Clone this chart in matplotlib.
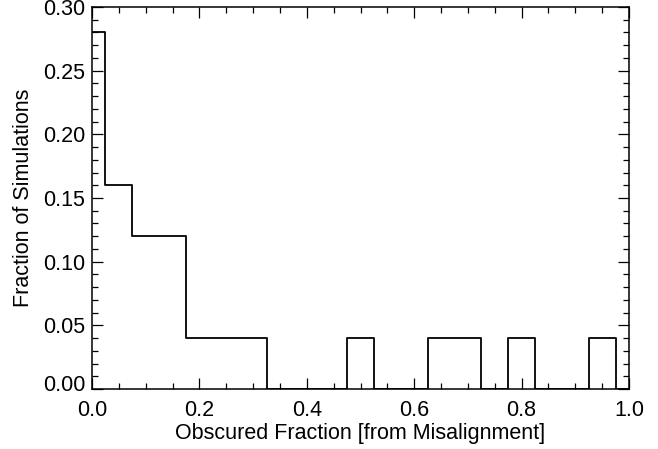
import matplotlib
matplotlib.use('Agg')
import matplotlib.pyplot as plt
from matplotlib.ticker import MultipleLocator
from matplotlib.transforms import ScaledTranslation
import numpy as np

# histogram bin centres and fraction of simulations in each bin
bin_centres = [0.00, 0.05, 0.10, 0.15, 0.20, 0.25, 0.30, 0.35, 0.40, 0.45, 0.50,
               0.55, 0.60, 0.65, 0.70, 0.75, 0.80, 0.85, 0.90, 0.95, 1.00]
fractions = [0.28, 0.16, 0.12, 0.12, 0.04, 0.04, 0.04, 0.00, 0.00, 0.00, 0.04,
             0.00, 0.00, 0.04, 0.04, 0.00, 0.04, 0.00, 0.00, 0.04, 0.00]

xticks = [0.0, 0.2, 0.4, 0.6, 0.8, 1.0]
yticks = [0.00, 0.05, 0.10, 0.15, 0.20, 0.25, 0.30]

plt.rcParams['font.family'] = ['Liberation Sans', 'DejaVu Sans']
plt.rcParams['font.size'] = 15.5

fig = plt.figure(figsize=(6.58, 4.49), dpi=100)
ax = fig.add_axes([92/658, 1 - 389/449, 537/658, 382/449])

ax.step(bin_centres, fractions, where='mid', color='black', lw=1.3, clip_on=True)

ax.set_xlim(0, 1.0)
ax.set_ylim(0, 0.30)
ax.set_xticks(xticks)
ax.set_xticklabels(['%.1f' % t for t in xticks])
ax.set_yticks(yticks)
ax.set_yticklabels(['%.2f' % t for t in yticks])
ax.xaxis.set_minor_locator(MultipleLocator(0.05))
ax.yaxis.set_minor_locator(MultipleLocator(0.01))

ax.tick_params(which='both', direction='in', top=True, right=True, width=0.9, colors='black')
ax.tick_params(which='major', length=8)
ax.tick_params(which='minor', length=4.3)
ax.tick_params(axis='x', pad=8)
ax.tick_params(axis='y', pad=5)
for s in ax.spines.values():
    s.set_linewidth(1.1)

ax.set_xlabel('Obscured Fraction [from Misalignment]', labelpad=1)
ax.set_ylabel('Fraction of Simulations', labelpad=6)

# IDL lifts the bottom y label a little
fig.canvas.draw()
lab = ax.get_yticklabels()[0]
lab.set_transform(lab.get_transform() + ScaledTranslation(0, 6/100, fig.dpi_scale_trans))

fig.savefig('out.png', dpi=100)
